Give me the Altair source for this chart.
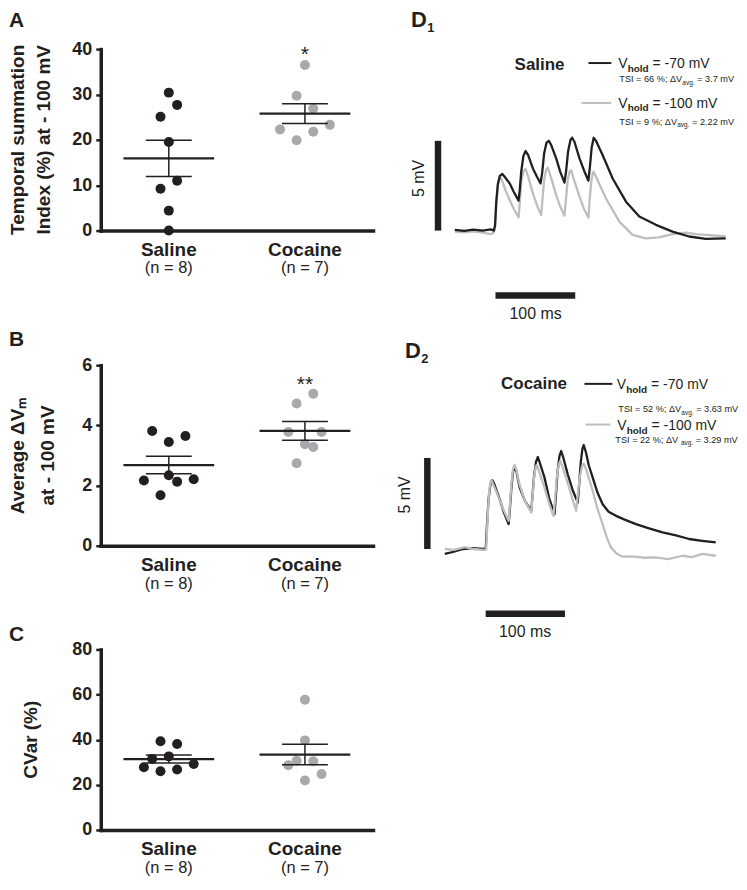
import altair as alt
import pandas as pd

FONT = "Liberation Sans"
INK = "#231f20"
DOT_GRAY = "#a7a9ac"
TRACE_GRAY = "#bcbec0"

# ---------------- data ----------------
groups = ["Saline", "Cocaine"]
group_n = ["(n = 8)", "(n = 7)"]

# Panel A: temporal summation index (%) at -100 mV
a_saline = [30.4, 27.7, 25.1, 19.5, 11.0, 9.2, 4.4, 0.0]
a_saline_jit = [0, 1, -1, 0, 1, -1, 0, 0]
a_cocaine = [36.5, 29.7, 26.9, 22.3, 21.8, 23.3, 19.9]
a_cocaine_jit = [0, -1, 1, -3, 1, 3, -1]

# Panel B: average dVm at -100 mV
b_saline = [3.81, 3.65, 3.45, 2.17, 2.34, 2.13, 2.21, 1.68]
b_saline_jit = [-2, 2, 0, -3, 0, 1, 3, -1]
b_cocaine = [5.05, 4.73, 3.78, 3.78, 3.37, 3.28, 2.74]
b_cocaine_jit = [1, -1, -2, 2, 0, 1, -1]

# Panel C: CVar (%)
c_saline = [39.3, 38.1, 31.5, 32.6, 27.8, 26.0, 26.8, 29.2]
c_saline_jit = [-1, 1, -2, 0, -3, -1, 1, 3]
c_cocaine = [57.7, 39.7, 30.7, 30.4, 28.7, 24.8, 21.9]
c_cocaine_jit = [0, 0, -1, 1, -2, 2, 0]

stars = {"A": "*", "B": "**"}

# Panel D1 (saline) traces: time (ms from first stimulus), voltage (mV from baseline)
d1_t_70 = [-50, -38, -27, -15, -5, -1, 0.5, 2, 4, 6.5, 9.6, 12.5, 18.75, 24, 30, 31.5, 33.3, 36, 38.8, 42,
           47.9, 53, 57.5, 59.5, 62, 65, 67.9, 71, 77.1, 82, 87.5, 89.5, 92, 95, 97.1, 100, 106.3, 112,
           117.5, 119.5, 121.5, 124.1, 127, 135.4, 147.9, 164.6, 181.3, 202.1, 222.9, 243.8, 264.6, 289.6]
d1_v_70 = [0.04, -0.02, 0.05, 0.0, 0.07, 0.0, 0.3, 1.6, 2.6, 3.05, 3.15, 3.0, 2.63, 2.15, 1.67, 2.3, 3.28,
           4.15, 4.43, 4.2, 3.46, 3.0, 2.63, 3.2, 4.3, 4.9, 5.0, 4.75, 4.02, 3.3, 2.67, 3.3, 4.4, 5.05, 5.17,
           4.95, 4.02, 3.35, 2.78, 3.6, 4.6, 5.17, 5.0, 4.2, 2.9, 1.61, 0.78, 0.32, -0.06, -0.33, -0.46, -0.43]
d1_t_100 = [-50, -38, -27, -15, -5, -1, 0.5, 2, 4, 6, 7.5, 10, 14, 18.75, 24, 30, 31.5, 33.3, 36, 38.8, 42,
            47.9, 53, 58.4, 60, 62, 64.5, 66.6, 70, 77.1, 82, 87.5, 89.5, 91.5, 94, 95.9, 99, 106.3, 112,
            117.5, 119, 121, 123, 124.1, 127, 139.6, 156.3, 172.9, 189.6, 206, 222.9, 239.6, 252, 264.6, 289.6]
d1_v_100 = [-0.06, -0.1, -0.05, -0.12, -0.2, -0.1, 0.2, 1.5, 2.5, 2.9, 2.94, 2.7, 2.2, 1.7, 1.2, 0.74, 1.6,
            2.7, 3.3, 3.43, 3.0, 2.07, 1.4, 0.87, 1.8, 2.8, 3.4, 3.5, 3.05, 1.98, 1.35, 0.83, 1.8, 2.8, 3.3,
            3.35, 2.9, 1.89, 1.2, 0.72, 1.7, 2.7, 3.2, 3.28, 3.0, 1.79, 0.5, -0.24, -0.43, -0.38, -0.2, -0.11,
            -0.2, -0.24, -0.33]

# Panel D2 (cocaine) traces
d2_t_70 = [-51.6, -40, -28.6, -15, -3.4, 0, 1.5, 3.5, 6, 8.4, 11, 17.6, 23, 28.9, 30.5, 32.5, 34.5, 36.5,
           39, 42.8, 50, 57.5, 59, 61, 63.5, 65.8, 68.5, 74.2, 80, 86.8, 88.5, 90.5, 93, 95.2, 98, 103.5,
           110, 116.1, 118, 120, 122, 123.6, 126.5, 130, 135, 141, 147.5, 155, 164.4, 176, 189.6, 205, 223,
           240, 256.6, 273, 290.2]
d2_v_70 = [-0.27, -0.15, 0.0, 0.05, 0.0, 0.0, 1.2, 2.7, 3.55, 3.78, 3.55, 2.74, 2.0, 1.37, 2.2, 3.4, 4.25,
           4.56, 4.2, 3.37, 2.6, 2.1, 2.9, 4.0, 4.8, 5.05, 4.7, 3.92, 2.8, 1.92, 2.9, 4.2, 5.1, 5.38, 5.0,
           4.1, 3.2, 2.55, 3.6, 4.8, 5.5, 5.71, 5.3, 4.6, 3.92, 3.1, 2.46, 2.05, 1.82, 1.6, 1.37, 1.15, 0.91,
           0.75, 0.55, 0.45, 0.36]
d2_t_100 = [-51.6, -40, -26.4, -15, -3.4, 0.6, 2, 4, 6, 7.2, 10, 17.6, 23, 28.9, 30.5, 32.5, 34.5, 36.5,
            39, 42.8, 50, 57.5, 59, 61, 63, 64.5, 67, 74.2, 80, 85.5, 87.5, 89.5, 92, 94, 97, 103.5, 109,
            114.1, 116, 118.5, 121.5, 123.6, 126.5, 130, 135, 141, 147.5, 153, 158, 165, 172.7, 185, 200,
            214.7, 230, 248.2, 260, 273.3, 290.2]
d2_v_100 = [0.0, -0.05, 0.1, 0.0, -0.05, -0.04, 1.3, 3.0, 3.7, 3.78, 3.5, 2.7, 2.1, 1.55, 2.4, 3.6, 4.4,
            4.62, 4.3, 3.52, 2.6, 2.0, 2.8, 3.9, 4.5, 4.62, 4.3, 3.36, 2.5, 1.82, 2.7, 3.9, 4.6, 4.84, 4.5,
            3.63, 2.8, 2.1, 2.9, 3.9, 4.55, 4.69, 4.4, 3.9, 3.19, 2.2, 1.37, 0.6, 0.09, -0.25, -0.42, -0.4,
            -0.48, -0.46, -0.55, -0.37, -0.45, -0.27, -0.37]

# scale bars: 100 ms and 5 mV
bar_panel = ["D1", "D2"]
bar_t_start = [1, 0]
bar_t_end = [101, 100]
bar_t_level = [-3.61, -3.56]
bar_v_pos = [-71, -73.6]
bar_v_start = [0, 0]
bar_v_end = [5, 5]

# ---------------- tables ----------------
dot_rows = []
for panel, sets in {
    "A": [(a_saline, a_saline_jit), (a_cocaine, a_cocaine_jit)],
    "B": [(b_saline, b_saline_jit), (b_cocaine, b_cocaine_jit)],
    "C": [(c_saline, c_saline_jit), (c_cocaine, c_cocaine_jit)],
}.items():
    for g, (vals, jits) in enumerate(sets):
        for v, j in zip(vals, jits):
            dot_rows.append({"panel": panel, "g": g, "v": v, "j": j})
dots = pd.DataFrame(dot_rows)

glab = pd.DataFrame({"g": [0, 1], "name": groups, "n": group_n})

trace_rows = []
for panel, hold, ts, vs in [("D1", "-70", d1_t_70, d1_v_70), ("D1", "-100", d1_t_100, d1_v_100),
                            ("D2", "-70", d2_t_70, d2_v_70), ("D2", "-100", d2_t_100, d2_v_100)]:
    for t, v in zip(ts, vs):
        trace_rows.append({"panel": panel, "hold": hold, "t": t, "v": v})
traces = pd.DataFrame(trace_rows)

bars = pd.DataFrame({"panel": bar_panel, "t0": bar_t_start, "t1": bar_t_end, "tl": bar_t_level,
                     "tv": bar_v_pos, "v0": bar_v_start, "v1": bar_v_end})

ONE = pd.DataFrame({"k": [0]})

# ---------------- layout (chart pixel coords) ----------------
H = 860
W = 731
X_RANGE = [92, 365]
JIT = 0.061
PANELS = {
    "A": dict(dom=[0, 40], rng=[221, 39], ticks=[0, 10, 20, 30, 40]),
    "B": dict(dom=[0, 6], rng=[537, 356], ticks=[0, 2, 4, 6]),
    "C": dict(dom=[0, 80], rng=[822, 641], ticks=[0, 20, 40, 60, 80]),
}
DPAN = {
    "D1": dict(xr=[487, 567], yr=[221, 131]),
    "D2": dict(xr=[478, 557.5], yr=[540.3, 449]),
}


def xsc():
    return alt.Scale(domain=[-0.5, 1.5], range=X_RANGE, nice=False, zero=False)


def ysc(p):
    return alt.Scale(domain=PANELS[p]["dom"], range=PANELS[p]["rng"], nice=False, zero=False)


def dxs(p):
    return alt.Scale(domain=[0, 100], range=DPAN[p]["xr"], nice=False, zero=False)


def dys(p):
    return alt.Scale(domain=[0, 5], range=DPAN[p]["yr"], nice=False, zero=False)


def label(text, x, y, size, weight="normal", align="left", baseline="alphabetic", angle=0, line_height=None):
    kw = dict(text=text, font=FONT, fontSize=size, fontWeight=weight, color=INK, align=align,
              baseline=baseline)
    if angle:
        kw["angle"] = angle
    if line_height:
        kw["lineHeight"] = line_height
    return alt.Chart(ONE).mark_text(**kw).encode(x=alt.value(x), y=alt.value(y))


REG = {" ": 278, "=": 584, "-": 333, "%": 889, ";": 278, ".": 278, "T": 611, "S": 667, "I": 278,
       "V": 667, "m": 833, "h": 556, "o": 556, "l": 222, "d": 556, "a": 556, "v": 500, "g": 556,
       "Δ": 668, "s": 500}
BOLD = {"h": 611, "o": 611, "l": 278, "d": 611}


def tw(s, size, bold=False):
    tab = BOLD if bold else REG
    return sum(tab.get(c, REG.get(c, 556)) for c in s) / 1000.0 * size


def rich(segs, x0, y0):
    out = []
    x = x0
    for text, size, dy, bold in segs:
        stripped = text.strip()
        lead = len(text) - len(text.lstrip())
        trail = len(text) - len(text.rstrip())
        x += tw(" " * lead, size)
        out.append(label(stripped, x, y0 + dy, size, weight="bold" if bold else "normal"))
        x += tw(stripped, size, bold) + tw(" " * trail, size)
    return out


layers = []

# ---------------- panels A, B, C ----------------
for p, axis_y, letter_y in [("A", 221, 17), ("B", 537, 337), ("C", 822, 633)]:
    cfg = PANELS[p]
    src = alt.Chart(dots).transform_filter(alt.datum.panel == p)
    pts = src.transform_calculate(xp=f"datum.g + datum.j * {JIT}").mark_circle(size=100, opacity=1).encode(
        x=alt.X("xp:Q", scale=xsc(),
                axis=alt.Axis(orient="bottom", offset=axis_y - H, labels=False, ticks=False, grid=False,
                              domainWidth=3.5, domainColor=INK, domainCap="square", title=None)),
        y=alt.Y("v:Q", scale=ysc(p),
                axis=alt.Axis(orient="left", offset=-92, values=cfg["ticks"], grid=False, domainWidth=3.5,
                              domainColor=INK, domainCap="square", tickSize=5, tickWidth=2.5, tickColor=INK,
                              labelFont=FONT, labelFontSize=18, labelFontWeight="bold", labelColor=INK,
                              labelPadding=4, labelFlush=False, title=None)),
        color=alt.Color("g:N", scale=alt.Scale(domain=[0, 1], range=[INK, DOT_GRAY]), legend=None),
    )
    agg = src.transform_aggregate(m="mean(v)", se="stderr(v)", groupby=["g"]).transform_calculate(
        lo="datum.m - datum.se", hi="datum.m + datum.se")
    xg = alt.X("g:Q", scale=xsc(), axis=None)
    mean_t = agg.mark_tick(orient="horizontal", size=91, thickness=2.2, color=INK, opacity=1).encode(
        x=xg, y=alt.Y("m:Q", scale=ysc(p), axis=None))
    lo_t = agg.mark_tick(orient="horizontal", size=46, thickness=1.5, color=INK, opacity=1).encode(
        x=xg, y=alt.Y("lo:Q", scale=ysc(p), axis=None))
    hi_t = agg.mark_tick(orient="horizontal", size=46, thickness=1.5, color=INK, opacity=1).encode(
        x=xg, y=alt.Y("hi:Q", scale=ysc(p), axis=None))
    conn = agg.mark_rule(strokeWidth=1.5, color=INK).encode(
        x=xg, y=alt.Y("lo:Q", scale=ysc(p), axis=None), y2="hi:Q")
    names = alt.Chart(glab).mark_text(font=FONT, fontSize=19, fontWeight="bold", color=INK,
                                      baseline="middle").encode(
        x=alt.X("g:Q", scale=xsc(), axis=None), y=alt.value(axis_y + 19), text="name:N")
    ns = alt.Chart(glab).mark_text(font=FONT, fontSize=16.5, color=INK, baseline="middle").encode(
        x=alt.X("g:Q", scale=xsc(), axis=None), y=alt.value(axis_y + 38), text="n:N")
    layers += [pts, conn, lo_t, hi_t, mean_t, names, ns]
    layers.append(label(p, 0, letter_y, 21, weight="bold"))
    if p in stars:
        star_y = 50.8 if p == "A" else 382.2
        layers.append(alt.Chart(pd.DataFrame({"g": [1], "s": [stars[p]]})).mark_text(
            font=FONT, fontSize=21, color=INK, baseline="alphabetic").encode(
            x=alt.X("g:Q", scale=xsc(), axis=None), y=alt.value(star_y), text="s:N"))

# y-axis titles
layers.append(label(["Temporal summation", "Index (%) at - 100 mV"], 15, 130, 19, weight="bold",
                    align="center", angle=270, line_height=26))
layers.append(label(["Average ΔVₘ", "at - 100 mV"], 15, 446.5, 19, weight="bold",
                    align="center", angle=270, line_height=30))
layers.append(label("CVar (%)", 28, 731.5, 19, weight="bold", align="center", angle=270))

# ---------------- panels D1, D2 ----------------
for p in ["D1", "D2"]:
    tr = alt.Chart(traces).transform_filter(alt.datum.panel == p)
    order = [("-100", TRACE_GRAY), ("-70", INK)] if p == "D1" else [("-70", INK), ("-100", TRACE_GRAY)]
    for hold, col in order:
        layers.append(tr.transform_filter(alt.datum.hold == hold).mark_line(
            strokeWidth=2.3, color=col, strokeJoin="round").encode(
            x=alt.X("t:Q", scale=dxs(p), axis=None), y=alt.Y("v:Q", scale=dys(p), axis=None)))
    bsrc = alt.Chart(bars).transform_filter(alt.datum.panel == p)
    layers.append(bsrc.mark_rule(strokeWidth=6.5, color=INK).encode(
        x=alt.X("t0:Q", scale=dxs(p), axis=None), x2="t1:Q", y=alt.Y("tl:Q", scale=dys(p), axis=None)))
    layers.append(bsrc.mark_rule(strokeWidth=6.5, color=INK).encode(
        x=alt.X("tv:Q", scale=dxs(p), axis=None), y=alt.Y("v0:Q", scale=dys(p), axis=None), y2="v1:Q"))

# D1 annotations
layers.append(label("D", 403, 17, 22, weight="bold"))
layers.append(label("1", 419.5, 22, 13, weight="bold"))
layers.append(label("Saline", 532, 55, 17, weight="bold", align="center", baseline="middle"))
layers.append(label("5 mV", 411, 168.7, 16, align="center", baseline="middle", angle=270))
layers.append(label("100 ms", 528, 305, 16, align="center", baseline="middle"))
layers.append(alt.Chart(ONE).mark_rule(strokeWidth=2, color=INK).encode(
    x=alt.value(581), x2=alt.value(604), y=alt.value(53)))
layers.append(alt.Chart(ONE).mark_rule(strokeWidth=2, color=TRACE_GRAY).encode(
    x=alt.value(574), x2=alt.value(604), y=alt.value(93)))
layers += rich([("V", 14, 0, False), ("hold", 10, 3.5, True), (" = -70 mV", 14, 0, False)], 611, 58)
layers += rich([("TSI = 66 %; ΔV", 9.2, 0, False), ("avg.", 6.5, 2.5, False), (" = 3.7 mV", 9.2, 0, False)],
               612, 72.5)
layers += rich([("V", 14, 0, False), ("hold", 10, 3.5, True), (" = -100 mV", 14, 0, False)], 611, 98)
layers += rich([("TSI = 9 %; ΔV", 9.2, 0, False), ("avg.", 6.5, 2.5, False), (" = 2.22 mV", 9.2, 0, False)],
               612, 115)

# D2 annotations
layers.append(label("D", 397, 349, 22, weight="bold"))
layers.append(label("2", 413.5, 354, 13, weight="bold"))
layers.append(label("Cocaine", 526.5, 375, 17, weight="bold", align="center", baseline="middle"))
layers.append(label("5 mV", 397, 486, 16, align="center", baseline="middle", angle=270))
layers.append(label("100 ms", 517.5, 623.7, 16, align="center", baseline="middle"))
layers.append(alt.Chart(ONE).mark_rule(strokeWidth=2, color=INK).encode(
    x=alt.value(577), x2=alt.value(605), y=alt.value(374.7)))
layers.append(alt.Chart(ONE).mark_rule(strokeWidth=2, color=TRACE_GRAY).encode(
    x=alt.value(578), x2=alt.value(603), y=alt.value(415.5)))
layers += rich([("V", 14, 0, False), ("hold", 10, 3.5, True), (" = -70 mV", 14, 0, False)], 609.5, 380)
layers += rich([("TSI = 52 %; ΔV", 9.2, 0, False), ("avg.", 6.5, 2.5, False), (" = 3.63 mV", 9.2, 0, False)],
               611, 403)
layers += rich([("V", 14, 0, False), ("hold", 10, 3.5, True), (" = -100 mV", 14, 0, False)], 610, 421)
layers += rich([("TSI = 22 %; ΔV ", 9.2, 0, False), ("avg.", 6.5, 2.5, False), (" = 3.29 mV", 9.2, 0, False)],
               608, 434)

chart = alt.layer(*layers).resolve_scale(x="independent", y="independent").properties(
    width=W, height=H, padding=0
).configure_view(stroke=None)

chart.save("out.html", embed_options={"renderer": "svg", "actions": False})
